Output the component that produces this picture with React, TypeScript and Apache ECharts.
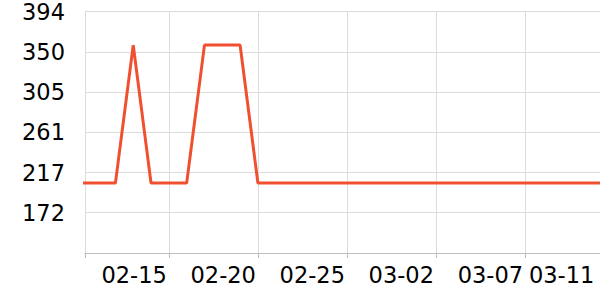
import React, { useEffect, useRef } from "react";
import * as echarts from "echarts";

const YEAR = 2023;
const dates: string[] = [
  "02-10", "02-11", "02-12", "02-13", "02-14", "02-15", "02-16", "02-17", "02-18", "02-19",
  "02-20", "02-21", "02-22", "02-23", "02-24", "02-25", "02-26", "02-27", "02-28", "03-01",
  "03-02", "03-03", "03-04", "03-05", "03-06", "03-07", "03-08", "03-09", "03-10", "03-11",
  "03-12",
];
const values: number[] = [
  205, 205, 205, 357, 205, 205, 205, 357, 357, 357,
  205, 205, 205, 205, 205, 205, 205, 205, 205, 205,
  205, 205, 205, 205, 205, 205, 205, 205, 205, 205,
  205,
];
const xTickLabels: string[] = ["02-15", "02-20", "02-25", "03-02", "03-07", "03-11"];
const xStart = "02-10 07:00";
const xEnd = "03-11 05:00";
const yMin = 128;
const yMax = 394;
const ySplits = 6;

function toTime(md: string): number {
  const [datePart, timePart] = md.split(" ");
  const [m, d] = datePart.split("-").map(Number);
  let h = 0;
  let mi = 0;
  if (timePart) {
    [h, mi] = timePart.split(":").map(Number);
  }
  return new Date(YEAR, m - 1, d, h, mi).getTime();
}

function fmt(v: number): string {
  const dt = new Date(v);
  const m = String(dt.getMonth() + 1).padStart(2, "0");
  const d = String(dt.getDate()).padStart(2, "0");
  return `${m}-${d}`;
}

export default function App() {
  const ref = useRef<HTMLDivElement>(null);
  useEffect(() => {
    document.body.style.margin = "0";
    if (!ref.current) return;
    const chart = echarts.init(ref.current, undefined, { renderer: "svg" });
    const xMin = toTime(xStart);
    const xMax = toTime(xEnd);
    const labelVals = xTickLabels.map(toTime);
    const tickVals = [xMin, ...labelVals.slice(0, -1)];
    const font = "DejaVu Sans";
    chart.setOption({
      animation: false,
      grid: { left: 85, right: -4, top: 10, bottom: 47, containLabel: false },
      xAxis: {
        type: "value",
        min: xMin,
        max: xMax,
        scale: true,
        axisLine: { show: true, lineStyle: { color: "#bdbdbd", width: 1 } },
        axisTick: { show: true, length: 5, customValues: tickVals, lineStyle: { color: "#bdbdbd" } },
        axisLabel: {
          customValues: labelVals,
          formatter: (v: number) => fmt(v),
          align: "right",
          color: "#000",
          fontSize: 22.5,
          fontFamily: font,
          margin: 10,
          padding: [0, 2, 0, 0],
          hideOverlap: false,
        },
        splitLine: { show: true, lineStyle: { color: "#dcdcdc", width: 1 } },
      },
      yAxis: {
        type: "value",
        min: yMin,
        max: yMax,
        interval: (yMax - yMin) / ySplits,
        axisLine: { show: false },
        axisTick: { show: false },
        axisLabel: {
          showMinLabel: false,
          formatter: (v: number) => String(Math.round(v)),
          color: "#000",
          fontSize: 22.5,
          fontFamily: font,
          margin: 20,
        },
        splitLine: { show: true, lineStyle: { color: "#dcdcdc", width: 1 } },
      },
      series: [
        {
          type: "line",
          data: dates.map((d, i) => [toTime(d), values[i]]),
          showSymbol: false,
          symbol: "none",
          lineStyle: { color: "#f0502f", width: 3 },
          itemStyle: { color: "#f0502f" },
          clip: true,
        },
      ],
    });
    return () => chart.dispose();
  }, []);
  return <div ref={ref} style={{ width: 600, height: 300 }} />;
}
